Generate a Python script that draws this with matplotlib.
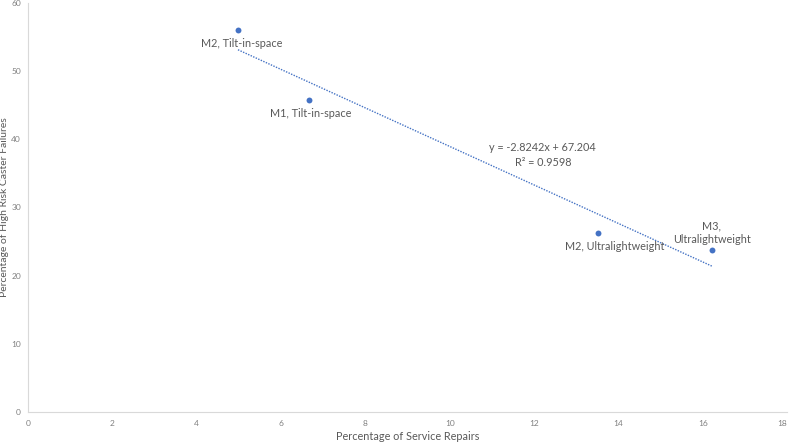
import matplotlib
matplotlib.use("Agg")
import matplotlib.pyplot as plt
import numpy as np

labels = ["M2, Tilt-in-space", "M1, Tilt-in-space", "M2, Ultralightweight", "M3,\nUltralightweight"]
service_repairs = [4.98, 6.66, 13.52, 16.22]
caster_failures = [56.0, 45.7, 26.2, 23.75]
slope, intercept, r2 = -2.8242, 67.204, 0.9598
x_ticks = [0, 2, 4, 6, 8, 10, 12, 14, 16, 18]
y_ticks = [0, 10, 20, 30, 40, 50, 60]

plt.rcParams['font.family'] = ['Lato', 'DejaVu Sans']

fig = plt.figure(figsize=(7.9, 4.42), dpi=100)
ax = fig.add_axes([28/790, 30/442, (787-28)/790, (412-3)/442])

ax.scatter(service_repairs, caster_failures, s=18, color="#4472C4", zorder=3, linewidths=0)

xs = np.array([min(service_repairs), max(service_repairs)])
ax.plot(xs, slope*xs + intercept, linestyle=(0, (1, 1)), color="#4472C4", linewidth=1.0)

offsets = [(3, -9.5), (1, -9.5), (12, -9.5), (0, 12.5)]
for lab, x, y, off in zip(labels, service_repairs, caster_failures, offsets):
    ax.annotate(lab, (x, y), xytext=off, textcoords="offset points",
                ha="center", va="center", fontsize=7.8, color="#595959", linespacing=1.3)

ax.text(12.21, 37.7, f"y = {slope}x + {intercept}\nR² = {r2}", ha="center", va="center",
        fontsize=7.8, color="#595959", linespacing=1.35)

ax.set_xlim(0, 18)
ax.set_ylim(0, 60)
ax.set_xticks(x_ticks)
ax.set_yticks(y_ticks)
ax.tick_params(axis="x", length=0, labelsize=6, labelcolor="#808080", pad=6)
ax.tick_params(axis="y", length=0, labelsize=6, labelcolor="#808080", pad=5)
for s in ["top", "right"]:
    ax.spines[s].set_visible(False)
for s in ["left", "bottom"]:
    ax.spines[s].set_color("#D9D9D9")
    ax.spines[s].set_linewidth(0.8)
xl = ax.get_xticklabels()
xl[-1].set_horizontalalignment("right")

ax.set_xlabel("Percentage of Service Repairs", fontsize=7.8, color="#595959", labelpad=3)
fig.text(5/790, 1 - 207/442, "Percentage of High Risk Caster Failures", rotation=90,
         ha="center", va="center", fontsize=7.5, color="#595959")

fig.savefig("out.png", dpi=100)
